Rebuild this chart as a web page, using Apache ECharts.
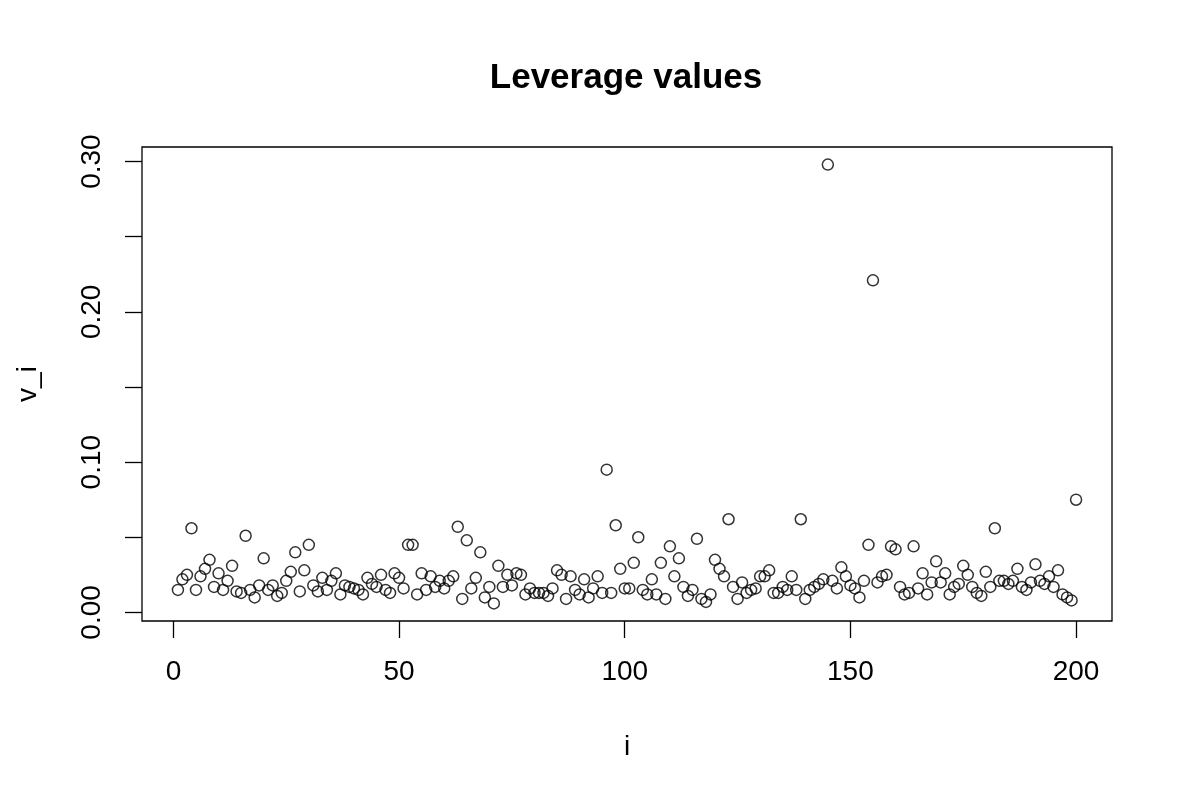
<!DOCTYPE html>
<html>
<head>
<meta charset="utf-8">
<script src="https://cdn.jsdelivr.net/npm/echarts@6/dist/echarts.min.js"></script>
<style>html,body{margin:0;padding:0;background:#fff;}#c{width:1200px;height:786px;}</style>
</head>
<body>
<div id="c"></div>
<script>
const indices = Array.from({length: 200}, (_, k) => k + 1);
const leverage = [
0.015,0.022,0.025,0.056,0.015,0.024,0.029,0.035,0.017,0.026,
0.015,0.021,0.031,0.014,0.013,0.051,0.015,0.010,0.018,0.036,
0.015,0.018,0.011,0.013,0.021,0.027,0.040,0.014,0.028,0.045,
0.018,0.014,0.023,0.015,0.021,0.026,0.012,0.018,0.017,0.016,
0.015,0.012,0.023,0.019,0.017,0.025,0.015,0.013,0.026,0.023,
0.016,0.045,0.045,0.012,0.026,0.015,0.024,0.017,0.021,0.016,
0.021,0.024,0.057,0.009,0.048,0.016,0.023,0.040,0.010,0.017,
0.006,0.031,0.017,0.025,0.018,0.026,0.025,0.012,0.016,0.013,
0.013,0.013,0.011,0.016,0.028,0.025,0.009,0.024,0.015,0.012,
0.022,0.010,0.016,0.024,0.013,0.095,0.013,0.058,0.029,0.016,
0.016,0.033,0.050,0.015,0.012,0.022,0.012,0.033,0.009,0.044,
0.024,0.036,0.017,0.011,0.015,0.049,0.009,0.007,0.012,0.035,
0.029,0.024,0.062,0.017,0.009,0.020,0.013,0.015,0.016,0.024,
0.024,0.028,0.013,0.013,0.017,0.015,0.024,0.015,0.062,0.009,
0.015,0.017,0.019,0.022,0.298,0.021,0.016,0.030,0.024,0.018,
0.016,0.010,0.021,0.045,0.221,0.020,0.024,0.025,0.044,0.042,
0.017,0.012,0.013,0.044,0.016,0.026,0.012,0.020,0.034,0.020,
0.026,0.012,0.017,0.019,0.031,0.025,0.017,0.013,0.011,0.027,
0.017,0.056,0.021,0.021,0.019,0.021,0.029,0.017,0.015,0.020,
0.032,0.021,0.019,0.024,0.017,0.028,0.012,0.010,0.008,0.075
];
const xTicks = [0, 50, 100, 150, 200];
const yTicks = [0, 0.05, 0.10, 0.15, 0.20, 0.25, 0.30];
const yLabels = [0, 0.10, 0.20, 0.30];
const titleText = 'Leverage values';
const xName = 'i';
const yName = 'v_i';

const FONT = '"Liberation Sans", Arial, Helvetica, sans-serif';
const chart = echarts.init(document.getElementById('c'));
chart.setOption({
  animation: false,
  backgroundColor: '#fff',
  grid: { left: 142, right: 88, top: 147, bottom: 165, show: true, borderColor: '#000', borderWidth: 1.3, backgroundColor: 'transparent' },
  graphic: [{
    type: 'text', x: 626, y: 78,
    style: { text: titleText, font: 'bold 35px ' + FONT, fill: '#000', textAlign: 'center', textVerticalAlign: 'middle' }
  }],
  xAxis: {
    type: 'value', min: -6.96, max: 207.96,
    splitLine: { show: false },
    axisLine: { show: false, onZero: false },
    axisTick: { show: true, customValues: xTicks, length: 17, lineStyle: { color: '#000', width: 1.3 } },
    axisLabel: { customValues: xTicks, fontSize: 28, fontFamily: FONT, color: '#000', margin: 37 },
    name: xName, nameLocation: 'middle', nameGap: 112,
    nameTextStyle: { fontSize: 28, fontFamily: FONT, color: '#000' }
  },
  yAxis: {
    type: 'value', min: -0.0057, max: 0.3097,
    splitLine: { show: false },
    axisLine: { show: false, onZero: false },
    axisTick: { show: true, customValues: yTicks, length: 17, lineStyle: { color: '#000', width: 1.3 } },
    axisLabel: { customValues: yLabels, rotate: 90, fontSize: 28, fontFamily: FONT, color: '#000', margin: 36,
      formatter: v => v.toFixed(2) },
    name: yName, nameLocation: 'middle', nameGap: 100, nameRotate: 90,
    nameTextStyle: { fontSize: 28, fontFamily: FONT, color: '#000' }
  },
  series: [{
    type: 'scatter',
    data: indices.map((i, k) => [i, leverage[k]]),
    symbol: 'circle', symbolSize: 11,
    itemStyle: { color: 'transparent', borderColor: '#000', borderWidth: 1.5 },
    emphasis: { disabled: true }
  }]
});
</script>
</body>
</html>
